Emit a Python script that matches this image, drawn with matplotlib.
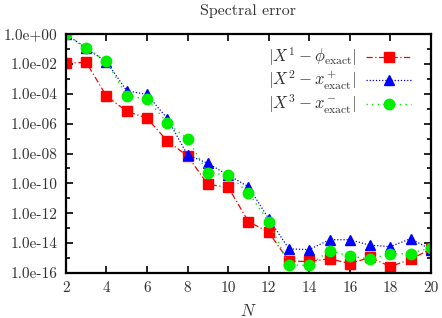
import numpy as np
import matplotlib
matplotlib.use("Agg")
import matplotlib.pyplot as plt
from matplotlib.ticker import FixedLocator, FixedFormatter

plt.rcParams['font.family'] = 'cmr10'
plt.rcParams['mathtext.fontset'] = 'cm'

N = np.arange(2, 21)

# |X^1 - phi_exact|
err1 = [1.1e-2, 1.3e-2, 7e-5, 6.8e-6, 2.3e-6, 7e-8, 6.8e-9, 8.5e-11, 5.6e-11,
        2.8e-13, 5.4e-14, 6.2e-16, 5.9e-16, 9e-16, 4.3e-16, 1.1e-15, 2.7e-16,
        8.3e-16, 4.1e-15]
# |X^2 - x+_exact|
err2 = [1.0, 1.1e-1, 1.4e-2, 1.6e-4, 9e-5, 2.2e-6, 8e-9, 2.2e-9, 3.6e-10,
        6e-11, 4.3e-13, 4.1e-15, 3.7e-15, 1.7e-14, 1.7e-14, 7.2e-15, 5.9e-15,
        2e-14, 3.7e-15]
# |X^3 - x-_exact|
err3 = [1.0, 1.2e-1, 1.5e-2, 7.2e-5, 4.6e-5, 1.1e-6, 9.4e-8, 5.2e-10, 3.6e-10,
        2.4e-11, 2.7e-13, 3.5e-16, 3.2e-16, 3.2e-15, 1.3e-15, 8.9e-16, 1.9e-15,
        2e-15, 5e-15]

labels = [r'$|X^1-\phi_{\rm exact}|$',
          r'$|X^2-x^+_{\rm exact}|$',
          r'$|X^3-x^-_{\rm exact}|$']

ytick_vals = [10.0**(-k) for k in range(0, 17, 2)]
ytick_labels = ['1.0e+00'] + ['1.0e-%02d' % k for k in range(2, 17, 2)]
xticks = list(range(2, 21, 2))

fig = plt.figure(figsize=(4.42, 3.18), dpi=100)
ax = fig.add_axes([0.149, 0.1415, 0.826, 0.7515])

ax.plot(N, err1, color='red', ls=(0, (5, 2, 1, 2)), lw=0.9, marker='s',
        ms=7, label=labels[0])
ax.plot(N, err2, color='blue', ls=(0, (1, 1.5)), lw=0.9, marker='^',
        ms=6.5, label=labels[1])
ax.plot(N, err3, color='#00ee00', ls=(0, (1, 3)), lw=1.0, marker='o',
        ms=7.5, label=labels[2])

ax.set_yscale('log')
ax.set_ylim(1e-16, 1.0)
ax.set_xlim(2, 20)
ax.yaxis.set_major_locator(FixedLocator(ytick_vals))
ax.yaxis.set_major_formatter(FixedFormatter(ytick_labels))
ax.yaxis.set_minor_locator(FixedLocator([10.0**(-k) for k in range(1, 16, 2)]))
ax.yaxis.set_minor_formatter(FixedFormatter([]))
ax.set_xticks(xticks)

ax.tick_params(which='both', direction='in', top=True, right=True,
               labelsize=11, width=1.2, colors='black', labelcolor='#333333')
ax.tick_params(which='major', length=5, pad=6)
ax.tick_params(which='minor', length=3)
for s in ax.spines.values():
    s.set_linewidth(1.6)

ax.set_title('Spectral error', fontsize=11.5, color='#333333', pad=14)
ax.set_xlabel('$N$', fontsize=12, color='#333333', labelpad=6)

ax.legend(loc='upper right', bbox_to_anchor=(0.964, 0.979), frameon=False,
          markerfirst=False, fontsize=12, handlelength=2.7, handletextpad=0.6,
          labelspacing=0.05, borderaxespad=0.0, labelcolor='#333333')

fig.savefig('out.png', dpi=100)
